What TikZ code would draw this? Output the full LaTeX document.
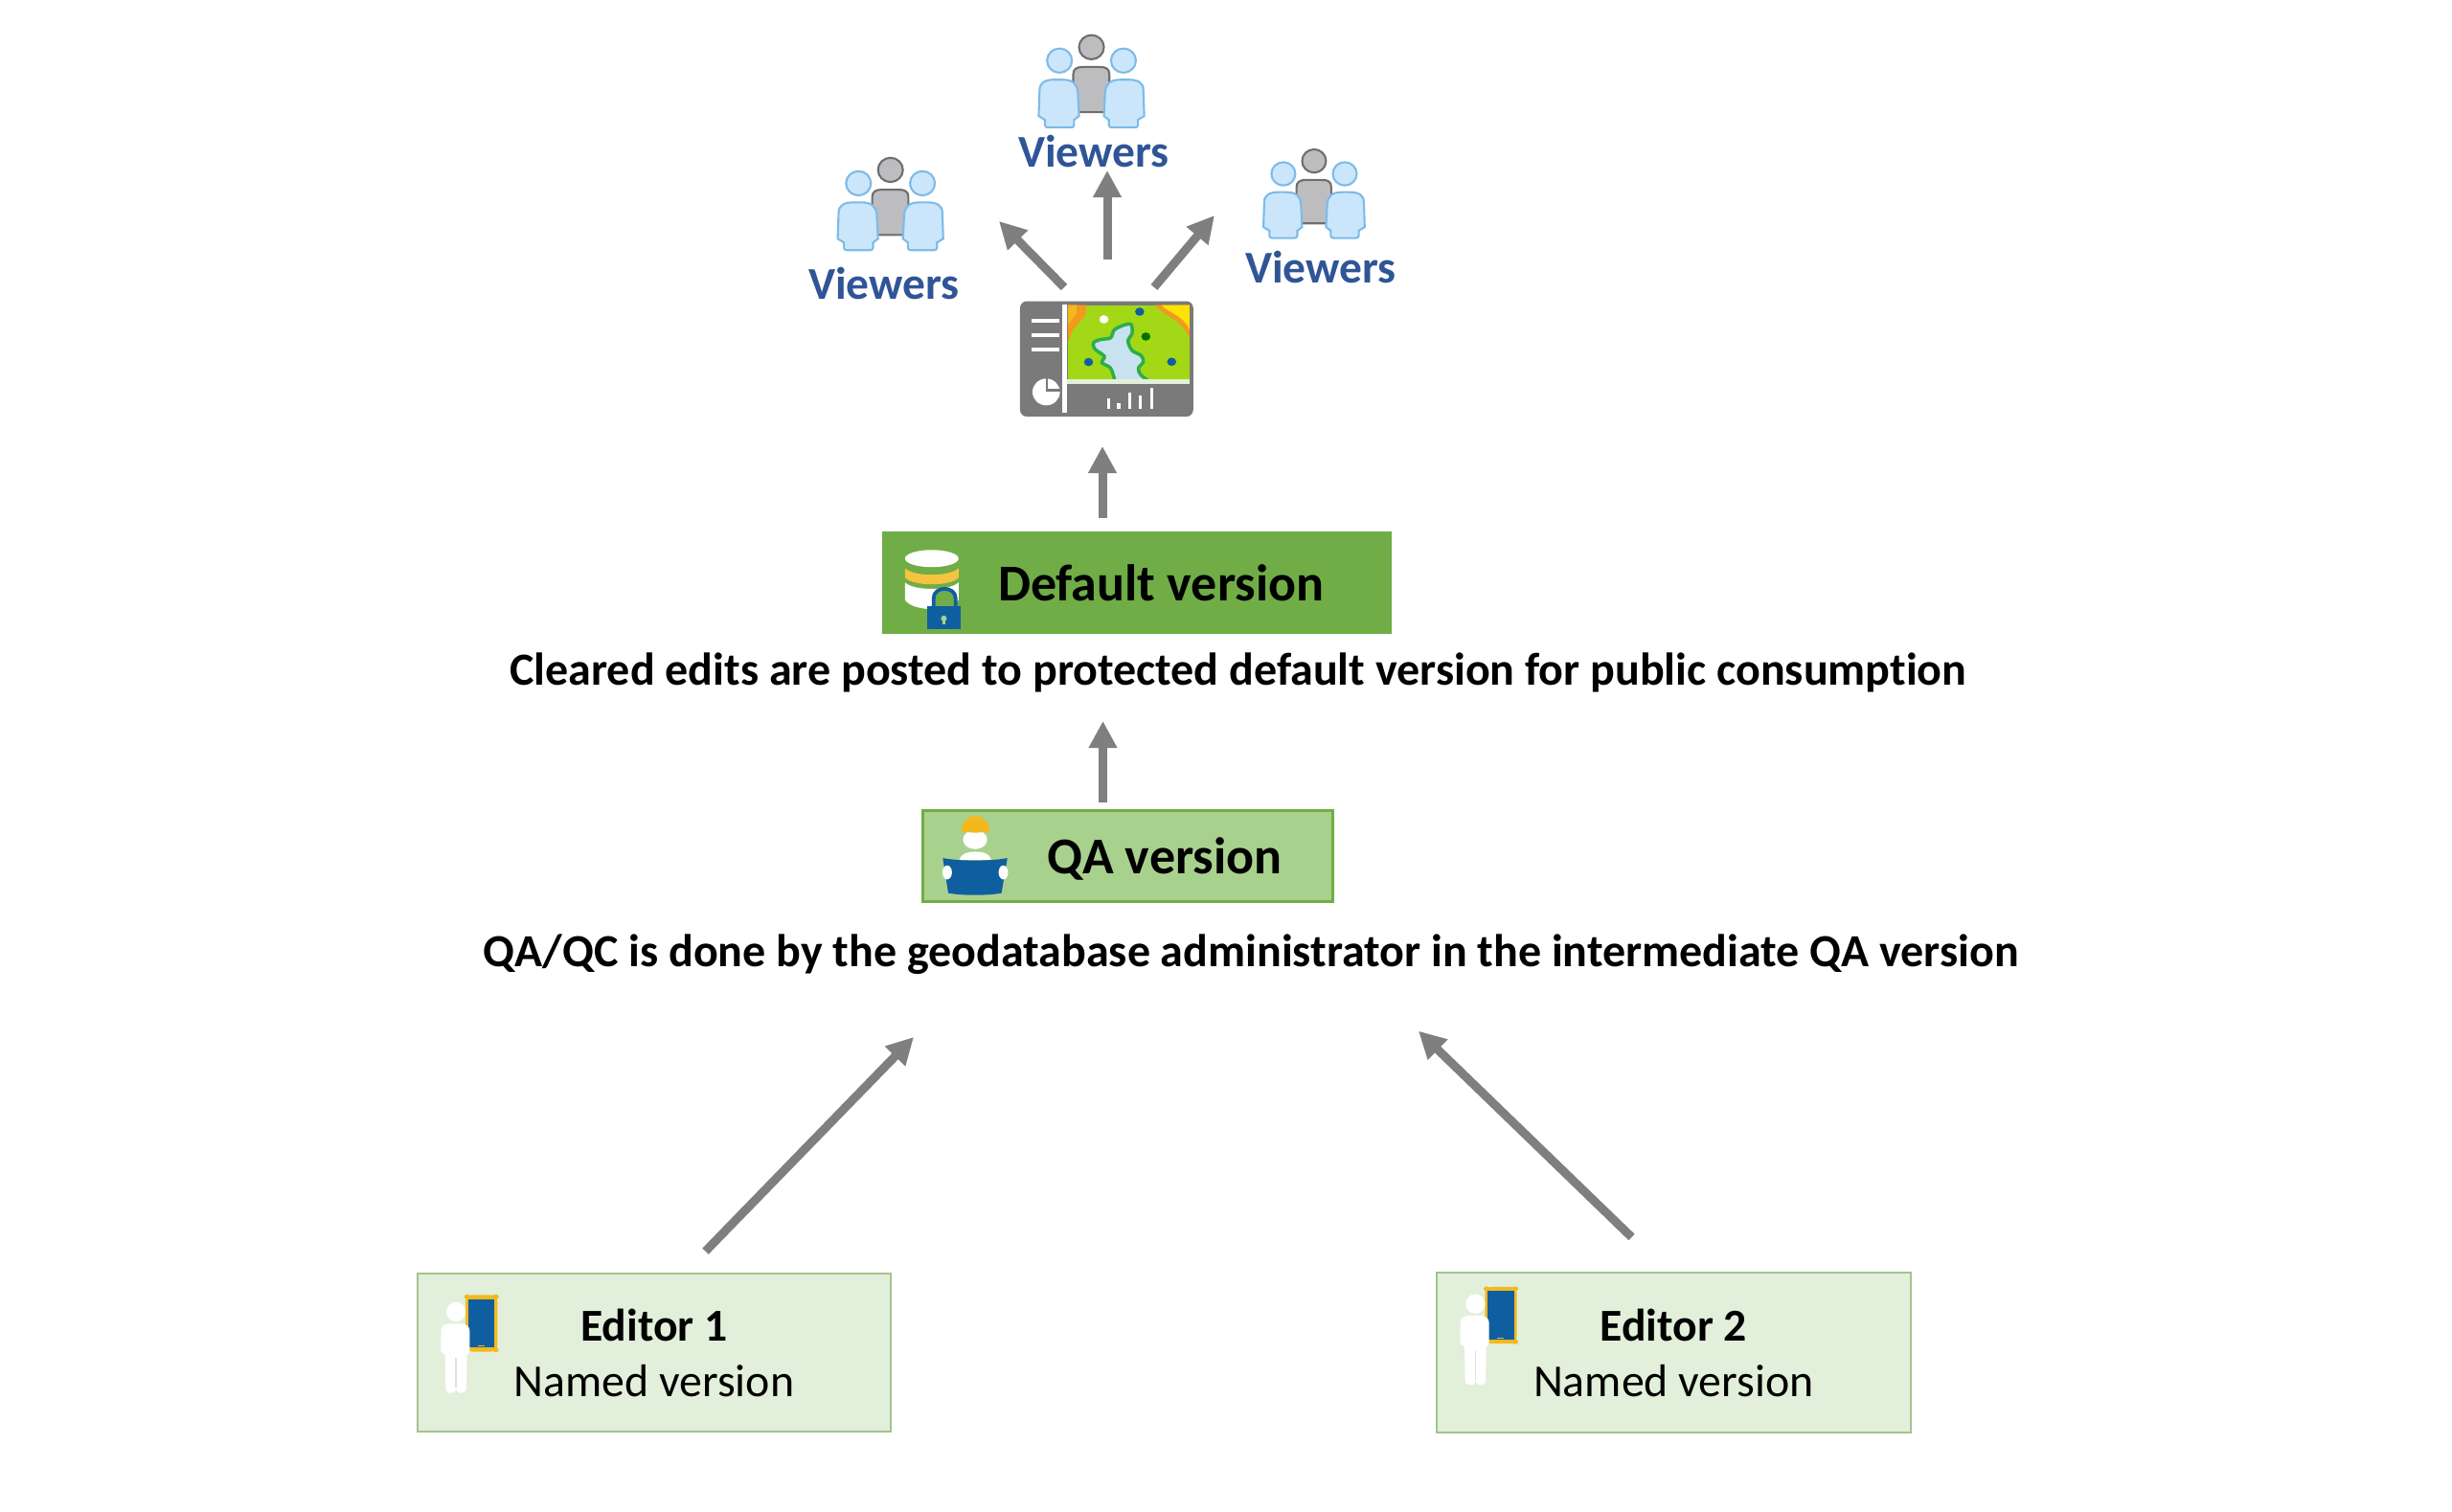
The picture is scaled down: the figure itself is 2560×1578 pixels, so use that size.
\documentclass[tikz,border=0pt]{standalone}
\usepackage{fontspec}
\setmainfont{Carlito}[Ligatures=NoCommon]
\usetikzlibrary{arrows.meta}
\definecolor{arrowgray}{HTML}{7F7F7F}
\definecolor{viewblue}{HTML}{2F5597}
\definecolor{darkgreen}{HTML}{70AD47}
\definecolor{midgreen}{HTML}{A9D18E}
\definecolor{palegreen}{HTML}{E2EFDA}
\definecolor{paleedge}{HTML}{A3C48C}
\definecolor{iconblue}{HTML}{0F5FA0}
\definecolor{iconyellow}{HTML}{F4B81F}
\definecolor{iconorange}{HTML}{F39A1E}
\definecolor{mapgreen}{HTML}{A2D816}
\definecolor{lakeblue}{HTML}{C8E2F0}
\definecolor{lakeedge}{HTML}{2EAD4B}
\definecolor{persongray}{HTML}{BDBDC0}
\definecolor{personedge}{HTML}{6E6E6E}
\definecolor{personblue}{HTML}{CBE6FB}
\definecolor{personline}{HTML}{7DBBE8}
\definecolor{dashgray}{HTML}{7A7A7A}
\tikzset{
  grayarrow/.style={draw=arrowgray,line width=0.09cm,-{Triangle[width=0.28cm,length=0.28cm]}},
  txt/.style={inner sep=0pt,outer sep=0pt,text=black},
  captiontxt/.style={txt,anchor=base west,font=\fontsize{13.65}{16}\selectfont\bfseries},
  boxtxt/.style={txt,anchor=base west,font=\fontsize{15.35}{18}\selectfont\bfseries},
  editortitle/.style={txt,anchor=base,font=\fontsize{13.55}{16}\selectfont\bfseries},
  editorsub/.style={txt,anchor=base,font=\fontsize{13.6}{16}\selectfont},
  viewertxt/.style={inner sep=0pt,outer sep=0pt,text=viewblue,anchor=base west,font=\fontsize{13.5}{16}\selectfont\bfseries},
  people/.pic={
    \path[fill=persongray,draw=personedge,line width=.6pt] (0,0) circle[x radius=30,y radius=38];
    \path[fill=persongray,draw=personedge,line width=.6pt] (-44,204) -- (-44,85) .. controls (-44,68) and (-35,62) .. (-20,62) -- (20,62) .. controls (35,62) and (43,68) .. (43,85) -- (43,204) -- cycle;
    \foreach \sx in {1,-1}{
      \begin{scope}[xscale=\sx]
        \path[fill=personblue,draw=personline,line width=.6pt] (-77,42) circle[x radius=30,y radius=38];
        \path[fill=personblue,draw=personline,line width=.6pt] (-112,245) -- (-112,228) -- (-127,216) -- (-125,135) .. controls (-125,110) and (-110,102) .. (-90,102) -- (-70,102) .. controls (-45,102) and (-35,115) .. (-33,140) -- (-30,216) -- (-42,228) -- (-42,245) .. controls (-42,250) and (-46,252) .. (-50,252) -- (-104,252) .. controls (-108,252) and (-112,250) .. (-112,245) -- cycle;
      \end{scope}
    }
  },
  editoricon/.pic={
    \path[fill=iconyellow,rounded corners=2pt] (28,-53) rectangle (121,125);
    \foreach \cx/\cy in {33/-47,116/-47,33/119,116/119}{
      \path[fill=iconyellow] (\cx,\cy) circle[x radius=9,y radius=8];
    }
    \path[fill=iconblue] (36,-40) rectangle (113,112);
    \path[fill=iconyellow] (63,105) rectangle (83,108);
    \path[fill=white] (0,0) circle[x radius=28,y radius=31];
    \path[fill=white] (-44,125) -- (-44,60) .. controls (-44,42) and (-30,37) .. (-15,37) -- (10,37) .. controls (30,37) and (40,45) .. (40,60) -- (40,125) -- (32,135) -- (30,240) .. controls (30,250) and (22,255) .. (14,255) .. controls (6,255) and (1,250) .. (0,240) .. controls (-1,250) and (-6,255) .. (-14,255) .. controls (-24,255) and (-30,250) .. (-30,240) -- (-32,135) -- cycle;
    \path[draw=black!12,line width=.5pt] (0,145) -- (0,238);
  }
}
\begin{document}
\begin{tikzpicture}[x=0.01cm,y=-0.01cm]
\useasboundingbox (0,0) rectangle (2560,1578);

% boxes
\node[rectangle,fill=darkgreen,draw=none,minimum width=5.32cm,minimum height=1.07cm,inner sep=0pt] (defaultbox) at (1187,608.5) {};
\node[rectangle,fill=midgreen,draw=darkgreen,line width=.85pt,minimum width=4.28cm,minimum height=.955cm,inner sep=0pt] (qabox) at (1177.5,894) {};
\node[rectangle,fill=palegreen,draw=paleedge,line width=.6pt,minimum width=4.943cm,minimum height=1.657cm,inner sep=0pt] (edoneb) at (682.9,1412.5) {};
\node[rectangle,fill=palegreen,draw=paleedge,line width=.6pt,minimum width=4.946cm,minimum height=1.667cm,inner sep=0pt] (edtwob) at (1747.3,1412.5) {};

% texts
\node[boxtxt] (defaulttxt) at (1042,627) {Default version};
\node[boxtxt] (qatxt) at (1093,912) {QA version};
\node[captiontxt] (cleared) at (532.4,715) {Cleared edits are posted to protected default version for public consumption};
\node[captiontxt] (qaqc) at (504.6,1009) {QA/QC is done by the geodatabase administrator in the intermediate QA version};
\node[editortitle] (edonet) at (682.9,1400) {Editor 1};
\node[editorsub] (edones) at (682.9,1458) {Named version};
\node[editortitle] (edtwot) at (1747.3,1400) {Editor 2};
\node[editorsub] (edtwos) at (1747.3,1458) {Named version};
\node[viewertxt] (viewtop) at (1063,174.5) {Viewers};
\node[viewertxt] (viewleft) at (844,312) {Viewers};
\node[viewertxt] (viewright) at (1300,295.5) {Viewers};

% connector ends
\coordinate (edoneout) at (736.5,1306.7);
\coordinate (edonein) at (954,1083);
\coordinate (edtwoout) at (1703.5,1292);
\coordinate (edtwoin) at (1481,1076.7);
\coordinate (qaout) at (1151.5,838);
\coordinate (qain) at (1151.5,753);
\coordinate (defout) at (1151,541);
\coordinate (defin) at (1151,466);
\coordinate (dashoutl) at (1111,300);
\coordinate (dashinl) at (1043,231);
\coordinate (dashoutt) at (1156,270.7);
\coordinate (dashint) at (1156,178);
\coordinate (dashoutr) at (1205,300);
\coordinate (dashinr) at (1268,225);

\draw[grayarrow] (edoneout) -- (edonein);
\draw[grayarrow] (edtwoout) -- (edtwoin);
\draw[grayarrow] (qaout) -- (qain);
\draw[grayarrow] (defout) -- (defin);
\draw[grayarrow] (dashoutl) -- (dashinl);
\draw[grayarrow] (dashoutt) -- (dashint);
\draw[grayarrow] (dashoutr) -- (dashinr);

% people and dashboard
\begin{scope}[shift={(820,20)},x=0.0043365cm,y=-0.003333cm]
  \pic at (737,88) {people};
  \pic at (253,473) {people};
  \pic[scale=.96] at (1273,445) {people};
  % dashboard
  \path[fill=dashgray,rounded corners=2pt] (565,885) rectangle (982,1247);
  \path[fill=mapgreen] (680,897) rectangle (973,1133);
  \path[fill=iconorange] (680,897) -- (725,897) -- (722,930) -- (692,975) -- (680,1015) -- cycle;
  \path[fill=iconyellow] (680,897) -- (702,897) -- (700,925) -- (680,960) -- cycle;
  \path[fill=iconorange] (890,897) .. controls (905,930) and (950,935) .. (973,1000) -- (973,897) -- cycle;
  \path[fill=yellow!85!orange] (905,897) .. controls (920,920) and (960,930) .. (973,975) -- (973,897) -- cycle;
  \path[fill=lakeblue,draw=lakeedge,line width=1pt] plot[smooth,tension=.55] coordinates {(793,1133) (783,1095) (762,1078) (768,1058) (745,1035) (742,1015) (760,1005) (783,1000) (792,975) (815,960) (832,958) (835,985) (825,1010) (835,1040) (856,1055) (862,1075) (850,1095) (855,1115) (872,1133)};
  \foreach \dx/\dy/\dc in {853/918/iconblue,730/1076/iconblue,930/1075/iconblue,868/996/green!45!black,767/942/white}{
    \path[fill=\dc] (\dx,\dy) circle[x radius=11,y radius=13];
  }
  \path[draw=white,line width=1.5pt] (673,895) -- (673,1235);
  \path[draw=palegreen,line width=1.5pt] (678,1138) -- (973,1138);
  \foreach \ly in {947,992,1037}{\path[draw=white,line width=1.3pt] (592,\ly) -- (660,\ly);}
  \path[fill=white] (628,1170) circle[x radius=33,y radius=42];
  \path[draw=dashgray,line width=.7pt] (630,1125) -- (630,1165) -- (665,1165);
  \foreach \bx/\by in {778/1190,803/1205,829/1172,855/1180,882/1157}{
    \path[draw=white,line width=1pt] (\bx,1222) -- (\bx,\by);
  }
\end{scope}

% default and QA icons
\begin{scope}[shift={(900,540)},x=0.003827cm,y=-0.003333cm]
  \path[fill=white] (117,205) -- (117,260) .. controls (140,298) and (240,298) .. (263,260) -- (263,205) .. controls (240,232) and (140,232) .. (117,205) -- cycle;
  \path[fill=iconyellow!85!white] (117,160) -- (117,190) .. controls (140,218) and (240,218) .. (263,190) -- (263,160) .. controls (240,188) and (140,188) .. (117,160) -- cycle;
  \path[fill=white] (190,130) circle[x radius=73,y radius=27];
  \path[draw=iconblue,line width=1.1pt,fill=darkgreen] (195,285) -- (195,255) .. controls (195,215) and (255,215) .. (255,255) -- (255,285);
  \path[fill=iconblue] (178,280) rectangle (268,352);
  \path[fill=midgreen] (223,318) circle[x radius=8,y radius=9];
  \path[fill=midgreen] (220,318) rectangle (226,338);
  % QA worker
  \path[fill=white] (308,1012) circle[x radius=33,y radius=30];
  \path[fill=white] (265,1075) .. controls (270,1055) and (290,1050) .. (308,1050) .. controls (330,1050) and (348,1055) .. (352,1075) -- cycle;
  \path[fill=iconyellow] (270,985) .. controls (272,955) and (290,938) .. (308,938) .. controls (328,938) and (346,955) .. (348,985) .. controls (330,992) and (288,992) .. (270,985) -- cycle;
  \path[fill=iconblue] (220,1070) .. controls (265,1080) and (350,1080) .. (396,1070) -- (380,1180) .. controls (340,1188) and (275,1188) .. (235,1180) -- cycle;
  \path[fill=white] (232,1115) circle[x radius=13,y radius=22];
  \path[fill=white] (385,1115) circle[x radius=13,y radius=22];
\end{scope}

% editor icons
\begin{scope}[shift={(420,1320)},x=0.0035714cm,y=-0.003333cm]
  \pic at (157,150) {editoricon};
\end{scope}
\begin{scope}[shift={(1490,1320)},x=0.0035714cm,y=-0.003333cm]
  \pic at (141,125) {editoricon};
\end{scope}
\end{tikzpicture}
\end{document}
